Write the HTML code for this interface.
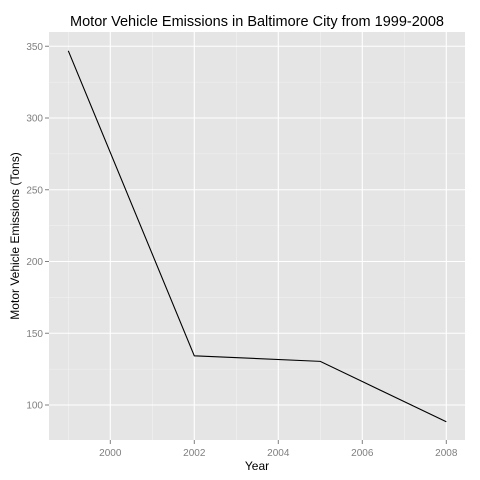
<!DOCTYPE html>
<html><head><meta charset="utf-8"><style>
body{margin:0;background:#fff;}
svg{display:block;font-family:"Liberation Sans",sans-serif;}
</style></head><body>
<svg id="chart" width="480" height="480">
<rect x="0" y="0" width="480" height="480" fill="#fff"/>
<text x="257" y="26" text-anchor="middle" font-size="14.5" fill="#000">Motor Vehicle Emissions in Baltimore City from 1999-2008</text>
<rect x="49" y="32" width="416" height="408" fill="#e5e5e5"/>
<g id="grid"></g>
<g id="axes"></g>
<g id="marks"></g>
<text x="257" y="470" text-anchor="middle" font-size="12" fill="#000">Year</text>
<text transform="translate(19,236) rotate(-90)" text-anchor="middle" font-size="12" fill="#000">Motor Vehicle Emissions (Tons)</text>
</svg>
<script>
const years=[1999,2002,2005,2008];
const emissions=[346.8,134.3,130.4,88.3];
const xTicks=[2000,2002,2004,2006,2008];
const yTicks=[100,150,200,250,300,350];
const ns="http://www.w3.org/2000/svg";
function X(v){return 110.3+(v-2000)*42;}
function Y(v){return 405-(v-100)*1.435;}
function mk(t,a,p){const e=document.createElementNS(ns,t);for(const k in a)e.setAttribute(k,a[k]);p.appendChild(e);return e;}
const grid=document.getElementById('grid'),axes=document.getElementById('axes'),marks=document.getElementById('marks');
// minor grid
for(let i=0;i<xTicks.length+1;i++){const v=xTicks[0]-1+i*2;const x=X(v);if(x>49&&x<465){const l=mk('line',{x1:x,x2:x,y1:32,y2:440,stroke:'#f2f2f2','stroke-width':0.6},grid);

}}
for(let i=0;i<yTicks.length-1;i++){const y=Y(yTicks[i]+25);const l=mk('line',{x1:49,x2:465,y1:y,y2:y,stroke:'#f2f2f2','stroke-width':0.6},grid);

}
xTicks.forEach(v=>{const x=X(v);
const g=mk('line',{x1:x,x2:x,y1:32,y2:440,stroke:'#fff','stroke-width':1.1},grid);


const t=mk('line',{x1:x,x2:x,y1:440,y2:444,stroke:'#7f7f7f'},axes);


const tx=mk('text',{x:x,y:456,'text-anchor':'middle','font-size':10,fill:'#7f7f7f'},axes);tx.textContent=v;

});
yTicks.forEach(v=>{const y=Y(v);
const g=mk('line',{x1:49,x2:465,y1:y,y2:y,stroke:'#fff','stroke-width':1.1},grid);


const t=mk('line',{x1:45,x2:49,y1:y,y2:y,stroke:'#7f7f7f'},axes);


const tx=mk('text',{x:43,y:y+3.5,'text-anchor':'end','font-size':10,fill:'#7f7f7f'},axes);tx.textContent=v;

});
const pts=years.map((y,i)=>X(y)+','+Y(emissions[i])).join(' ');
const line=mk('polyline',{points:pts,fill:'none',stroke:'#000','stroke-width':1.1},marks);


</script>
</body></html>
